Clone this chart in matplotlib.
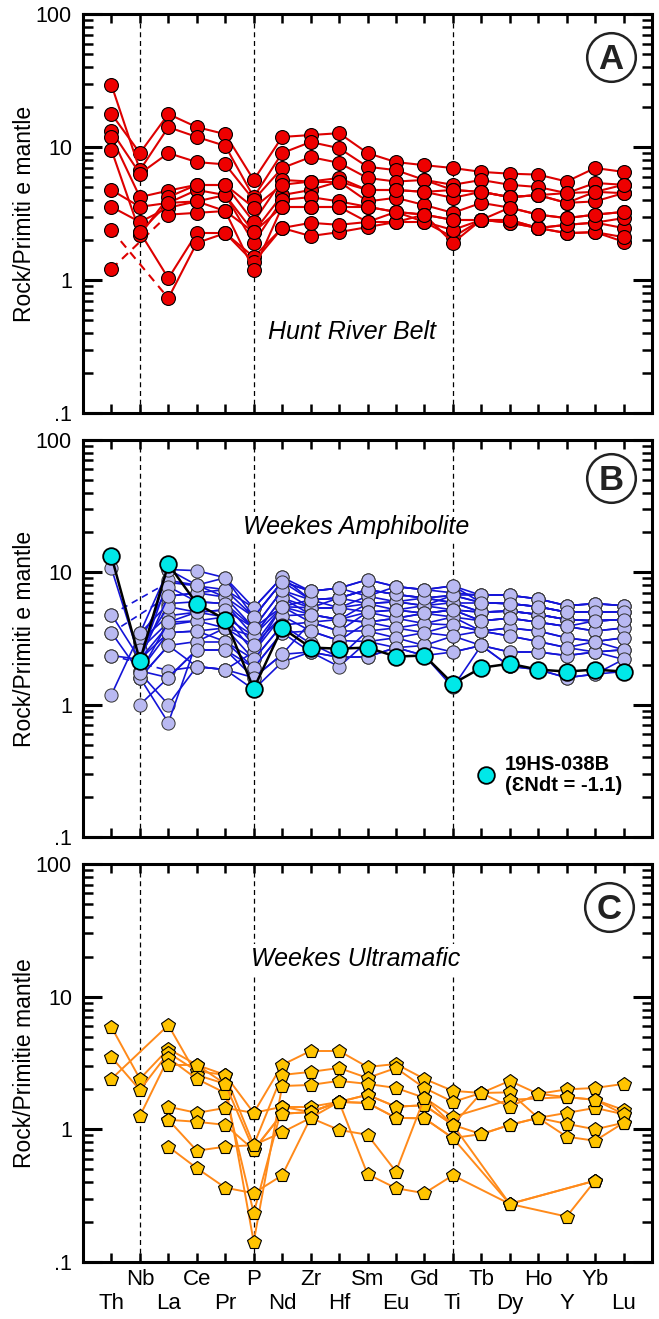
import numpy as np
import matplotlib
matplotlib.use('Agg')
import matplotlib.pyplot as plt
from matplotlib.ticker import LogLocator, NullFormatter

plt.rcParams['font.family'] = ['Liberation Sans', 'DejaVu Sans']

nan = np.nan
elements = ['Th', 'Nb', 'La', 'Ce', 'Pr', 'P', 'Nd', 'Zr', 'Hf', 'Sm',
            'Eu', 'Gd', 'Ti', 'Tb', 'Dy', 'Ho', 'Y', 'Yb', 'Lu']
dashed_at = ['Nb', 'P', 'Ti']

# ---- Panel A : Hunt River Belt (rock / primitive mantle)
hunt = [
    [17.7, 9.0, 17.7, 14.1, 12.5, 5.65, 11.9, 12.3, 12.7, 9.0, 7.7, 7.3, 6.95, 6.5, 6.3, 6.2, 5.5, 6.95, 6.5],
    [29.3, 6.7, 14.1, 11.9, 10.2, 4.2, 9.0, 10.9, 9.8, 7.1, 6.7, 5.65, 5.2, 5.65, 5.2, 5.0, 4.5, 5.36, 5.2],
    [13.2, 6.3, 9.0, 7.7, 7.4, 4.0, 6.95, 8.4, 7.6, 5.85, 5.5, 5.65, 4.75, 4.6, 4.2, 4.35, 3.8, 4.6, 4.5],
    [11.9, 4.2, 4.7, 5.2, 5.2, 2.73, 5.65, 5.5, 5.85, 4.75, 4.75, 4.6, 4.15, 4.6, 4.2, 4.35, 3.8, 3.9, 4.5],
    [9.5, 2.29, 1.03, 2.25, 2.25, 1.49, 2.46, 2.14, 2.29, 2.5, 2.73, 2.73, 2.1, 2.83, 2.7, 2.46, 2.25, 2.29, 1.94],
    [4.75, 3.55, 3.8, 4.75, 4.35, 2.29, 4.35, 4.75, 5.5, 3.9, 4.15, 3.66, 3.2, 3.8, 3.5, 3.1, 2.92, 3.1, 3.25],
    [3.55, 2.73, 3.5, 3.9, 4.35, 1.9, 4.0, 4.2, 3.9, 3.55, 3.25, 3.1, 2.83, 2.83, 2.83, 2.46, 2.6, 2.7, 2.46],
    [2.38, nan, 0.73, 1.9, 2.25, 1.36, 2.46, 2.69, 2.6, 2.73, 2.73, 3.1, 1.9, 2.83, 2.7, 2.46, 2.25, 2.29, 2.1],
    [1.21, nan, 3.1, 3.2, 3.3, 1.19, 3.55, 3.55, 3.55, 2.73, 3.25, 2.73, 2.38, 2.83, 2.83, 2.46, 2.6, 2.7, 2.92],
    [nan, 2.18, 4.2, 5.2, 5.2, 3.5, 5.2, 5.5, 5.5, 4.75, 4.75, 4.6, 4.75, 4.6, 4.2, 4.35, 4.5, 4.6, 5.2],
    [nan, 2.29, 3.8, 3.9, 3.3, 2.29, 3.55, 3.55, 3.55, 3.55, 3.25, 3.1, 2.83, 2.83, 3.5, 3.1, 2.92, 3.1, 3.25],
]

# ---- Panel B : Weekes Amphibolite
amph = [
    [10.7, 2.2, 10.5, 10.3, 9.1, 5.4, 9.2, 7.2, 7.6, 8.8, 7.8, 7.4, 7.9, 6.7, 6.7, 6.3, 5.6, 5.8, 5.6],
    [4.8, nan, 8.4, 7.9, 7.4, 4.6, 8.5, 6.2, 6.4, 7.4, 6.8, 6.4, 6.7, 5.9, 5.8, 5.5, 5.0, 5.0, 5.0],
    [3.5, nan, 6.6, 7.0, 6.5, 3.8, 7.3, 5.4, 5.4, 6.6, 6.0, 5.6, 5.9, 5.0, 5.1, 4.8, 4.4, 4.3, 4.4],
    [2.35, nan, 1.81, 1.94, 1.84, 1.3, 2.1, 2.5, 2.28, 2.3, 2.7, 2.8, 2.5, 2.8, 2.5, 2.5, 2.35, 2.5, 2.6],
    [1.19, 3.45, 5.8, 6.0, 5.8, 3.3, 6.4, 4.8, 4.4, 5.8, 5.2, 4.9, 5.2, 4.3, 4.5, 4.2, 3.9, 3.6, 3.8],
    [nan, 3.0, 4.7, 5.0, 5.2, 2.8, 5.5, 4.2, 3.6, 5.0, 4.5, 4.1, 4.6, 3.6, 3.8, 3.6, 3.2, 3.0, 3.2],
    [nan, 2.6, 4.2, 4.3, 4.6, 2.5, 4.7, 3.6, 3.05, 4.2, 3.8, 3.5, 4.0, 3.6, 3.3, 3.0, 2.7, 2.5, 2.6],
    [nan, 1.8, 3.5, 3.6, 3.8, 2.2, 4.0, 2.9, 2.28, 3.6, 3.2, 2.8, 3.3, 2.8, 2.5, 2.5, 2.35, 2.5, 2.2],
    [nan, 1.6, 2.8, 3.0, 3.0, 1.9, 3.5, 2.5, 1.94, 3.0, 2.7, 2.35, 2.5, 2.8, 1.95, 1.84, 1.6, 1.7, 1.78],
    [nan, 1.0, 1.6, 2.6, 2.6, 1.6, 2.4, 4.2, 4.4, 4.2, 4.5, 4.9, 5.2, 5.0, 5.1, 4.8, 4.4, 4.3, 4.4],
    [nan, 1.74, 1.0, 1.94, 1.84, 2.5, 5.5, 6.2, 5.4, 5.8, 6.0, 5.6, 6.7, 5.9, 5.8, 5.5, 5.0, 5.0, 5.0],
    [nan, 1.6, 0.73, 3.0, 3.8, 3.3, 6.4, 5.4, 6.4, 7.4, 6.8, 6.4, 5.9, 5.0, 5.1, 4.8, 4.4, 4.3, 4.4],
    [nan, 2.2, 8.7, 8.0, 6.5, 4.6, 8.5, 7.2, 7.6, 6.6, 7.8, 7.4, 7.0, 6.7, 6.7, 6.3, 5.6, 5.8, 5.6],
    [nan, 3.0, 7.8, 6.0, 5.8, 3.8, 7.3, 6.2, 6.4, 5.8, 6.0, 6.4, 5.9, 5.9, 5.8, 5.5, 5.0, 5.0, 5.0],
    [nan, 2.6, 5.5, 5.0, 4.6, 3.3, 5.5, 5.4, 5.4, 5.0, 5.2, 5.6, 5.2, 5.0, 5.1, 4.8, 4.4, 4.3, 4.4],
    [2.35, 2.2, 4.0, 4.3, 3.8, 2.8, 4.7, 4.8, 4.4, 4.2, 4.5, 4.9, 4.6, 4.3, 4.5, 4.2, 3.9, 3.6, 3.8],
    [nan, 2.2, 3.5, 3.6, 3.0, 2.2, 4.0, 4.2, 3.6, 3.6, 3.8, 4.1, 4.0, 3.6, 3.8, 3.6, 3.2, 3.0, 3.2],
    [nan, 1.8, 1.6, 2.6, 2.6, 1.9, 3.5, 3.6, 3.05, 3.0, 3.2, 3.5, 3.3, 3.6, 3.3, 3.0, 2.7, 3.0, 2.6],
    [4.8, 2.2, 6.6, 7.0, 7.4, 5.4, 9.2, 6.2, 6.4, 7.4, 6.8, 6.4, 6.7, 6.7, 6.7, 6.3, 5.6, 5.8, 5.6],
    [nan, 3.45, 10.5, 8.0, 9.1, 4.6, 8.5, 7.2, 7.6, 8.8, 7.8, 7.4, 7.9, 5.9, 5.8, 5.5, 5.0, 5.0, 5.0],
    [nan, 1.6, 2.8, 1.94, 1.84, 1.6, 2.4, 2.5, 2.28, 2.3, 2.7, 2.35, 1.35, 2.8, 1.95, 1.84, 1.6, 1.7, 2.2],
    [3.5, 1.74, 4.2, 5.0, 5.2, 3.8, 5.5, 4.8, 4.4, 5.0, 5.2, 4.9, 5.2, 4.3, 4.5, 4.2, 3.9, 4.3, 4.4],
]
sample_19hs = [13.2, 2.15, 11.5, 5.8, 4.4, 1.32, 3.8, 2.7, 2.65, 2.7, 2.31, 2.35, 1.44, 1.9, 2.04, 1.84, 1.78, 1.84, 1.78]

# ---- Panel C : Weekes Ultramafic
ultra = [
    [5.9, 2.4, 4.04, 3.06, 2.57, 1.33, 3.06, 3.9, 3.9, 2.95, 3.11, 2.4, 1.95, 1.88, 2.32, 1.85, 2.0, 2.05, 2.2],
    [3.5, 1.98, 3.77, 2.75, 2.57, 0.76, 2.57, 2.71, 2.9, 2.44, 2.9, 2.05, 1.61, 1.88, 1.9, 1.22, 1.33, 1.45, 1.3],
    [2.4, nan, 6.1, 2.57, 2.2, 0.142, 2.12, 2.16, 2.32, 2.2, 2.05, 1.73, 1.24, nan, 1.67, nan, 1.75, 1.67, 1.4],
    [nan, 1.26, 3.45, 2.4, 1.88, 0.234, 1.48, 1.48, 1.61, 1.82, 1.48, 1.52, 1.08, 0.92, 1.08, 1.22, 1.1, 1.0, 1.12],
    [nan, nan, 3.06, 3.06, 2.2, 0.70, 1.31, 1.35, 1.61, 1.58, 1.22, 1.21, 0.86, nan, 0.274, nan, nan, 0.41, nan],
    [nan, nan, 1.48, 1.33, 1.45, 1.33, 1.48, 1.35, 1.61, 1.82, 1.48, 1.52, 1.08, 1.88, 1.48, 1.85, 1.75, 1.67, 1.3],
    [nan, nan, 1.18, 1.14, 1.08, 0.70, 1.31, 1.35, 1.61, 1.58, 1.22, 1.21, 0.86, 0.92, 1.08, 1.22, 0.88, 0.82, 1.12],
    [nan, nan, 0.74, 0.51, 0.363, 0.33, 0.45, 1.22, 1.61, 0.46, 0.36, 0.33, 0.45, nan, 0.274, nan, 0.22, 0.41, nan],
    [nan, nan, 1.18, 0.69, 0.74, 0.76, 0.95, 1.22, 0.99, 0.91, 0.48, 1.73, 1.08, nan, 0.274, nan, nan, 0.41, nan],
]

W, H = 659, 1319
fig = plt.figure(figsize=(W / 100, H / 100), dpi=100)

def px_axes(top, bottom, left=83, right=652):
    return fig.add_axes([left / W, 1 - bottom / H, (right - left) / W, (bottom - top) / H])

axA = px_axes(14, 413)
axB = px_axes(440, 837)
axC = px_axes(864, 1262)

def setup(ax, ylabel):
    ax.set_yscale('log')
    ax.set_ylim(0.1, 100)
    ax.set_xlim(-1, len(elements))
    ax.set_yticks([0.1, 1, 10, 100])
    ax.set_yticklabels(['.1', '1', '10', '100'])
    ax.yaxis.set_minor_locator(LogLocator(base=10, subs=np.arange(2, 10)))
    ax.yaxis.set_minor_formatter(NullFormatter())
    ax.set_xticks(range(len(elements)))
    ax.set_xticklabels([])
    ax.tick_params(which='both', direction='in', top=True, right=True)
    ax.tick_params(axis='y', which='major', length=14, width=2.2, labelsize=15.5, pad=8)
    ax.tick_params(axis='y', which='minor', length=7, width=1.8)
    ax.tick_params(axis='x', which='major', length=6.5, width=1.8)
    for s in ax.spines.values():
        s.set_linewidth(2.2)
    for el in dashed_at:
        ax.axvline(elements.index(el), color='k', lw=0.9, ls=(0, (4, 3)), zorder=1)
    ax.set_ylabel(ylabel, fontsize=16.5, labelpad=0)

def draw(ax, vals, lc, lw, marker, ms, mfc, mec='k', mew=0.8, gap_ls=(0, (4, 3))):
    y = np.array(vals, dtype=float)
    x = np.arange(len(y))
    ok = ~np.isnan(y)
    xi, yi = x[ok], y[ok]
    for a in range(len(xi) - 1):
        ls = '-' if xi[a + 1] - xi[a] == 1 else gap_ls
        ax.plot(xi[a:a + 2], yi[a:a + 2], color=lc, lw=lw, ls=ls)
    ax.plot(xi, yi, ls='none', marker=marker, ms=ms, mfc=mfc, mec=mec, mew=mew)

def circled(ax, letter, xf, yf):
    ax.plot([xf], [yf], 'o', ms=35, mfc='white', mec='#222222', mew=1.8,
            transform=ax.transAxes, clip_on=False, zorder=6)
    ax.text(xf, yf - 0.03, letter, transform=ax.transAxes, ha='center', va='baseline',
            fontsize=25, fontweight='bold', color='#222222', zorder=7)

def site_label(ax, text, xd, yf):
    ax.text(xd, yf, text, transform=ax.get_xaxis_transform(), ha='center', va='center',
            fontsize=18, style='italic', zorder=5,
            bbox=dict(fc='white', ec='none', pad=2))

# Panel A
setup(axA, 'Rock/Primiti e mantle')
for s in hunt:
    draw(axA, s, '#dd0000', 1.5, 'o', 10, '#ee0000', gap_ls=(0, (4, 3)))
site_label(axA, 'Hunt River Belt', 8.45, 0.203)
circled(axA, 'A', 0.928, 0.892)

# Panel B
setup(axB, 'Rock/Primiti e mantle')
for s in amph:
    draw(axB, s, '#1414d8', 1.2, 'o', 9.5, '#b9b9f2', mec='#333333', mew=0.7)
draw(axB, sample_19hs, 'k', 1.8, 'o', 12, '#00e8e8', mew=1.3)
site_label(axB, 'Weekes Amphibolite', 8.6, 0.781)
circled(axB, 'B', 0.928, 0.904)
axB.plot([0.708], [0.156], 'o', ms=12, mfc='#00e8e8', mec='k', mew=1.3, transform=axB.transAxes)
axB.text(0.742, 0.156, '19HS-038B\n(\u0190Ndt = -1.1)', transform=axB.transAxes,
         ha='left', va='center', fontsize=14.5, fontweight='bold', linespacing=1.15)

# Panel C
setup(axC, 'Rock/Primitie mantle')
for s in ultra:
    draw(axC, s, '#ff8a1a', 1.4, 'p', 10.5, '#ffc400', gap_ls='-')
site_label(axC, 'Weekes Ultramafic', 8.6, 0.761)
circled(axC, 'C', 0.925, 0.892)

# staggered element labels under the bottom panel
for i, el in enumerate(elements):
    yf = -0.105 if i % 2 == 0 else -0.043
    axC.text(i, yf, el, transform=axC.get_xaxis_transform(), ha='center', va='center', fontsize=16)

fig.savefig('out.png', dpi=100)
